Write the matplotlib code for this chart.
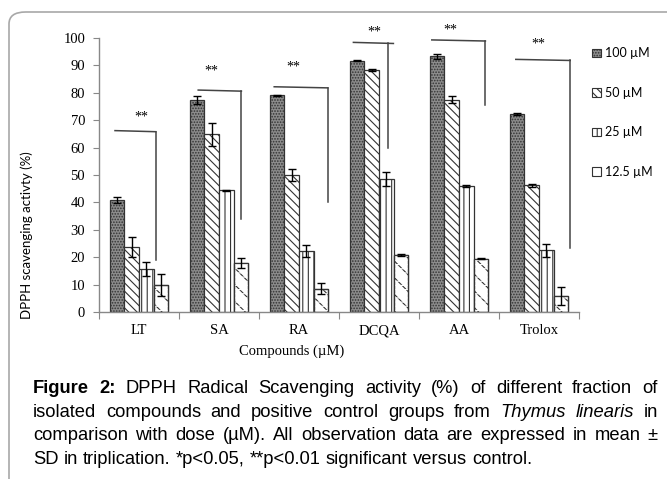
import matplotlib
matplotlib.use("Agg")
import matplotlib.pyplot as plt
import numpy as np
from matplotlib.patches import Patch, FancyBboxPatch
from matplotlib import font_manager

# ---------------- data ----------------
compounds = ["LT", "SA", "RA", "DCQA", "AA", "Trolox"]
doses = ["100 µM", "50 µM", "25 µM", "12.5 µM"]
vals_100 = [40.8, 77.3, 79.1, 91.7, 93.3, 72.3]
vals_50 = [23.7, 64.8, 50.0, 88.2, 77.5, 46.2]
vals_25 = [15.7, 44.5, 22.2, 48.5, 46.0, 22.5]
vals_12 = [10.0, 17.8, 8.5, 20.8, 19.5, 5.9]
err_100 = [1.1, 1.5, 0.2, 0.2, 1.0, 0.5]
err_50 = [3.6, 4.2, 2.1, 0.4, 1.4, 0.4]
err_25 = [2.4, 0.2, 2.1, 2.5, 0.3, 2.4]
err_12 = [4.0, 1.8, 2.1, 0.2, 0.3, 3.2]
yticks = [0, 10, 20, 30, 40, 50, 60, 70, 80, 90, 100]

# significance brackets (x relative to category index, y in data units)
br_left = [-0.30, -0.26, -0.31, -0.32, -0.34, -0.29]
br_right = [0.21, 0.28, 0.36, 0.18, 0.33, 0.39]
br_vx = [0.21, 0.28, 0.36, 0.11, 0.33, 0.39]
br_top = [66.2, 81.0, 82.2, 98.4, 99.3, 92.2]
br_bottom = [18.8, 33.9, 40.3, 59.7, 75.5, 23.5]
star_dx = [0.03, -0.09, -0.07, -0.06, -0.11, -0.01]
star_y = [71.2, 88.0, 89.4, 102.3, 103.0, 97.8]

W, H = 667, 479
fig = plt.figure(figsize=(W / 100, H / 100), dpi=100)
ax = fig.add_axes([99 / W, 1 - 312 / H, 480 / W, 274 / H])

serif = "Liberation Serif"
sans_leg = "Lato"
edge = "#333333"
plt.rcParams["hatch.linewidth"] = 0.8

x = np.arange(len(compounds))
bw = 0.184
offs = np.array([-1.5, -0.5, 0.5, 1.5]) * bw
series = [vals_100, vals_50, vals_25, vals_12]
errs = [err_100, err_50, err_25, err_12]
styles = [
    dict(facecolor="#8c8c8c", hatch="......"),
    dict(facecolor="white", hatch="\\\\\\\\"),
    dict(facecolor="white", hatch="|||"),
    dict(facecolor="white", hatch="\\\\"),
]
for i, (vals, e, st) in enumerate(zip(series, errs, styles)):
    ax.bar(x + offs[i], vals, width=bw, edgecolor=edge, linewidth=0.9, zorder=2, **st)
    if i == 3:
        # break the diagonals into dashes
        ax.bar(x + offs[i], vals, width=bw, fill=False, edgecolor="white",
               linewidth=0, hatch="----", zorder=2.1)
        ax.bar(x + offs[i], vals, width=bw, fill=False, edgecolor=edge,
               linewidth=0.9, zorder=2.2)
    ax.errorbar(x + offs[i], vals, yerr=e, fmt="none", ecolor="black",
                elinewidth=1.0, capsize=3, capthick=1.0, zorder=3)

# brackets
for i in range(len(compounds)):
    ax.plot([i + br_left[i], i + br_right[i]], [br_top[i], br_top[i] - 0.4],
            color="#444444", lw=1.1, clip_on=False, zorder=4)
    ax.plot([i + br_vx[i], i + br_vx[i]], [br_top[i] - 0.4, br_bottom[i]],
            color="#444444", lw=1.1, clip_on=False, zorder=4)
    ax.text(i + star_dx[i], star_y[i], "**", ha="center", va="center",
            fontsize=10, family=serif, clip_on=False)

ax.set_xlim(-0.5, len(compounds) - 0.5)
ax.set_ylim(0, 100)
ax.set_yticks(yticks)
ax.set_yticklabels([str(t) for t in yticks], family=serif, fontsize=10.5)
ax.set_xticks(np.arange(len(compounds) + 1) - 0.5)
ax.set_xticklabels([])
ax.set_xticks(x, minor=True)
ax.set_xticklabels(compounds, minor=True, family=serif, fontsize=10.5)
ax.tick_params(axis="x", which="minor", length=0, pad=9)
ax.tick_params(axis="x", which="major", length=5, color="#888888", direction="out")
ax.tick_params(axis="y", length=4, color="#888888", pad=6)
for s in ["top", "right"]:
    ax.spines[s].set_visible(False)
for s in ["left", "bottom"]:
    ax.spines[s].set_color("#888888")
    ax.spines[s].set_linewidth(1.0)

fig.text(27 / W, 1 - 235 / H, "DPPH scavenging activty (%)", rotation=90,
         ha="center", va="center", family=sans_leg, fontsize=9.5)
fig.text(292 / W, 1 - 351 / H, "Compounds (µM)", ha="center", va="center",
         family=serif, fontsize=10.5)

handles = [Patch(edgecolor=edge, linewidth=0.8, **st) for st in styles]
leg = fig.legend(handles, doses, loc="upper left", bbox_to_anchor=(581 / W, 1 - 36 / H),
                 frameon=False, handlelength=0.7, handleheight=0.7,
                 handletextpad=0.35, labelspacing=2.2,
                 prop=dict(family=sans_leg, size=9))

# outer rounded frame
frame = FancyBboxPatch((9 / W, -0.2), 1.2, (1 - 12 / H) + 0.2,
                       boxstyle="round,pad=0,rounding_size=0.025",
                       transform=fig.transFigure, fill=False,
                       edgecolor="#a8a8a8", linewidth=1.2, clip_on=False)
fig.patches.append(frame)

# caption (justified)
cap_lines = [
    [("Figure 2:", "bold", "normal"),
     ("DPPH Radical Scavenging activity (%) of different fraction of", "normal", "normal")],
    [("isolated compounds and positive control groups from", "normal", "normal"),
     ("Thymus linearis", "normal", "italic"), ("in", "normal", "normal")],
    [("comparison with dose (µM). All observation data are expressed in mean ±", "normal", "normal")],
    [("SD in triplication. *p<0.05, **p<0.01 significant versus control.", "normal", "normal")],
]
names = {f.name for f in font_manager.fontManager.ttflist}
cap_font = "Liberation Sans Narrow" if "Liberation Sans Narrow" in names else "Liberation Sans"
x0, x1 = 33, 658
last_end = 533
baselines = [393, 417, 440, 464]
renderer = fig.canvas.get_renderer()
probe = fig.text(0, 0, cap_lines[3][0][0], family=cap_font, fontsize=10)
cap_size = 10 * (last_end - x0) / probe.get_window_extent(renderer).width
probe.remove()
for li, line in enumerate(cap_lines):
    words = []
    for txt, wt, stl in line:
        for w in txt.split(" "):
            words.append((w, wt, stl))
    objs = []
    widths = []
    for w, wt, stl in words:
        t = fig.text(0, 0, w, family=cap_font, fontsize=cap_size, weight=wt,
                     style=stl, ha="left", va="baseline")
        objs.append(t)
        widths.append(t.get_window_extent(renderer).width)
    if li < len(cap_lines) - 1:
        gap = (x1 - x0 - sum(widths)) / (len(words) - 1)
    else:
        sp = fig.text(0, 0, "a a", family=cap_font, fontsize=cap_size)
        sp2 = fig.text(0, 0, "aa", family=cap_font, fontsize=cap_size)
        gap = sp.get_window_extent(renderer).width - sp2.get_window_extent(renderer).width
        sp.remove(); sp2.remove()
    cx = x0
    for t, wdt in zip(objs, widths):
        t.set_position((cx / W, 1 - baselines[li] / H))
        cx += wdt + gap

fig.savefig("out.png", dpi=100)
